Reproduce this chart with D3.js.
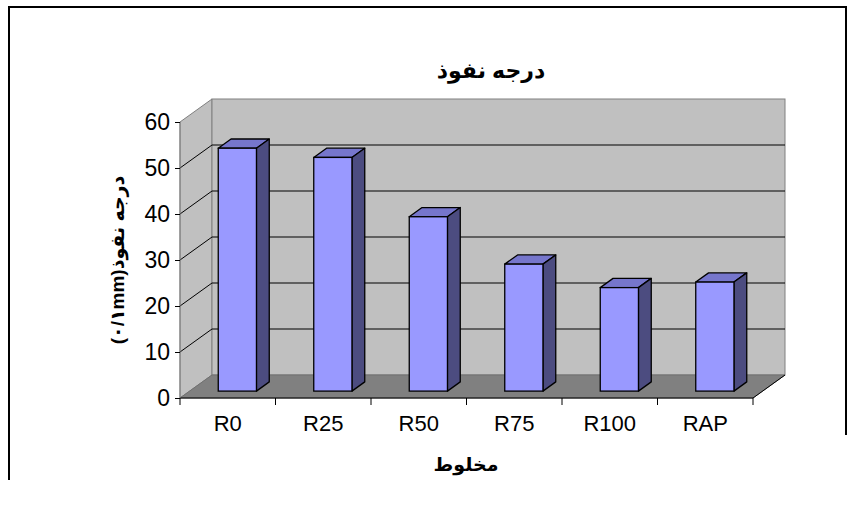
<!DOCTYPE html>
<html>
<head>
<meta charset="utf-8">
<script src="https://cdn.jsdelivr.net/npm/d3@7"></script>
<style>
  body { margin: 0; background: #fff; }
  text { font-family: "Liberation Sans", Arial, "DejaVu Sans", sans-serif; }
</style>
</head>
<body>
<script>
// values
const categories = ['R0', 'R25', 'R50', 'R75', 'R100', 'RAP']
const values = [52.8, 50.8, 37.9, 27.6, 22.5, 23.7]
const yTicks = [0, 10, 20, 30, 40, 50, 60]
const chartTitle = 'درجه نفوذ'
const xTitle = 'مخلوط'
const yTitle = 'درجه نفوذ(۰/۱mm)'

const width = 854
const height = 505

// 3d wall depth
const depth = {dx: 32, dy: -23}
const barFront = 0.3
const barDepth = 0.4

const svg = d3.select('body').append('svg')
  .attr('width', width)
  .attr('height', height)

// outer frame
svg.append('path')
  .attr('d', 'M9,480 L9,7 L846,7 L846,435')
  .attr('fill', 'none')
  .attr('stroke', '#000')
  .attr('stroke-width', 2)

const xScale = d3.scaleBand()
  .domain(categories)
  .range([180, 753])
  .paddingInner(0.6)
  .paddingOuter(0.3)

const yScale = d3.scaleLinear()
  .domain([0, 60])
  .range([398, 122])

const x0 = xScale.range()[0]
const x1 = xScale.range()[1]
const yTop = yScale(60)
const yBot = yScale(0)

const pts = a => a.map(p => p.join(',')).join(' ')

// side wall
svg.append('polygon')
  .attr('points', pts([[x0, yTop], [x0 + depth.dx, yTop + depth.dy], [x0 + depth.dx, yBot + depth.dy], [x0, yBot]]))
  .attr('fill', '#c0c0c0')
  .attr('stroke', '#808080')

// back wall
svg.append('rect')
  .attr('x', x0 + depth.dx)
  .attr('y', yTop + depth.dy)
  .attr('width', x1 - x0)
  .attr('height', yBot - yTop)
  .attr('fill', '#c0c0c0')
  .attr('stroke', '#808080')

// floor
svg.append('polygon')
  .attr('points', pts([[x0, yBot], [x0 + depth.dx, yBot + depth.dy], [x1 + depth.dx, yBot + depth.dy], [x1, yBot]]))
  .attr('fill', '#808080')
  .attr('stroke', '#707070')

// gridlines on back wall and side wall
const grid = svg.append('g')
grid.selectAll('line.back')
  .data(yTicks.filter(d => d > 0 && d < 60))
  .enter()
  .append('line')
  .attr('class', 'back')
  .attr('x1', x0 + depth.dx)
  .attr('x2', x1 + depth.dx)
  .attr('y1', d => yScale(d) + depth.dy)
  .attr('y2', d => yScale(d) + depth.dy)
  .attr('stroke', '#000')
grid.selectAll('line.side')
  .data(yTicks.filter(d => d > 0 && d < 60))
  .enter()
  .append('line')
  .attr('class', 'side')
  .attr('x1', x0)
  .attr('x2', x0 + depth.dx)
  .attr('y1', d => yScale(d))
  .attr('y2', d => yScale(d) + depth.dy)
  .attr('stroke', '#000')

// floor right edge and category axis
svg.append('line')
  .attr('x1', x1).attr('y1', yBot)
  .attr('x2', x1 + depth.dx).attr('y2', yBot + depth.dy)
  .attr('stroke', '#000')

const xAxis = d3.axisBottom(xScale).tickSize(0).tickPadding(17)
const gx = svg.append('g')
  .attr('transform', `translate(0, ${yBot})`)
  .call(xAxis)
gx.select('.domain').attr('stroke', '#000').attr('d', `M${x0},0H${x1}`)
gx.selectAll('text')
  .attr('font-size', 22)
  .attr('fill', '#000')
  .attr('dy', '0.71em')
gx.selectAll('line.sep')
  .data(d3.range(categories.length + 1))
  .enter()
  .append('line')
  .attr('class', 'sep')
  .attr('x1', i => x0 + i * xScale.step())
  .attr('x2', i => x0 + i * xScale.step())
  .attr('y1', 0)
  .attr('y2', 7)
  .attr('stroke', '#000')

const yAxis = d3.axisLeft(yScale).tickValues(yTicks).tickSize(5).tickPadding(5)
const gy = svg.append('g')
  .attr('transform', `translate(${x0}, 0)`)
  .call(yAxis)
gy.select('.domain').attr('stroke', '#808080').attr('d', `M0,${yTop}V${yBot}`)
gy.selectAll('.tick line').attr('stroke', '#000')
gy.selectAll('text')
  .attr('font-size', 23)
  .attr('fill', '#000')

// bars
const bw = xScale.bandwidth()
const ox = depth.dx * barFront
const oy = depth.dy * barFront
const bx = depth.dx * barDepth
const by = depth.dy * barDepth

const bars = svg.append('g').selectAll('g')
  .data(categories.map((c, i) => ({c: c, v: values[i]})))
  .enter()
  .append('g')

bars.append('polygon')
  .attr('points', d => {
    const l = xScale(d.c) + ox, r = l + bw, t = yScale(d.v) + oy
    return pts([[l, t], [r, t], [r + bx, t + by], [l + bx, t + by]])
  })
  .attr('fill', '#7676cc')
  .attr('stroke', '#000')
  .attr('stroke-width', 1.3)
  .attr('stroke-linejoin', 'round')

bars.append('polygon')
  .attr('points', d => {
    const r = xScale(d.c) + ox + bw, t = yScale(d.v) + oy, b = yScale(0) + oy
    return pts([[r, t], [r + bx, t + by], [r + bx, b + by], [r, b]])
  })
  .attr('fill', '#4c4c80')
  .attr('stroke', '#000')
  .attr('stroke-width', 1.3)
  .attr('stroke-linejoin', 'round')

bars.append('rect')
  .attr('x', d => xScale(d.c) + ox)
  .attr('y', d => yScale(d.v) + oy)
  .attr('width', bw)
  .attr('height', d => yScale(0) - yScale(d.v))
  .attr('fill', '#9999ff')
  .attr('stroke', '#000')
  .attr('stroke-width', 1.3)

// titles
svg.append('text')
  .attr('x', 491)
  .attr('y', 78)
  .attr('text-anchor', 'middle')
  .attr('direction', 'rtl')
  .attr('font-size', 22)
  .attr('font-weight', 'bold')
  .text(chartTitle)

svg.append('text')
  .attr('x', 466)
  .attr('y', 471)
  .attr('text-anchor', 'middle')
  .attr('direction', 'rtl')
  .attr('font-size', 19)
  .attr('font-weight', 'bold')
  .text(xTitle)

svg.append('text')
  .attr('transform', 'translate(124, 260) rotate(-90)')
  .attr('text-anchor', 'middle')
  .attr('direction', 'rtl')
  .attr('font-size', 19)
  .attr('font-weight', 'bold')
  .text(yTitle)
</script>
</body>
</html>
